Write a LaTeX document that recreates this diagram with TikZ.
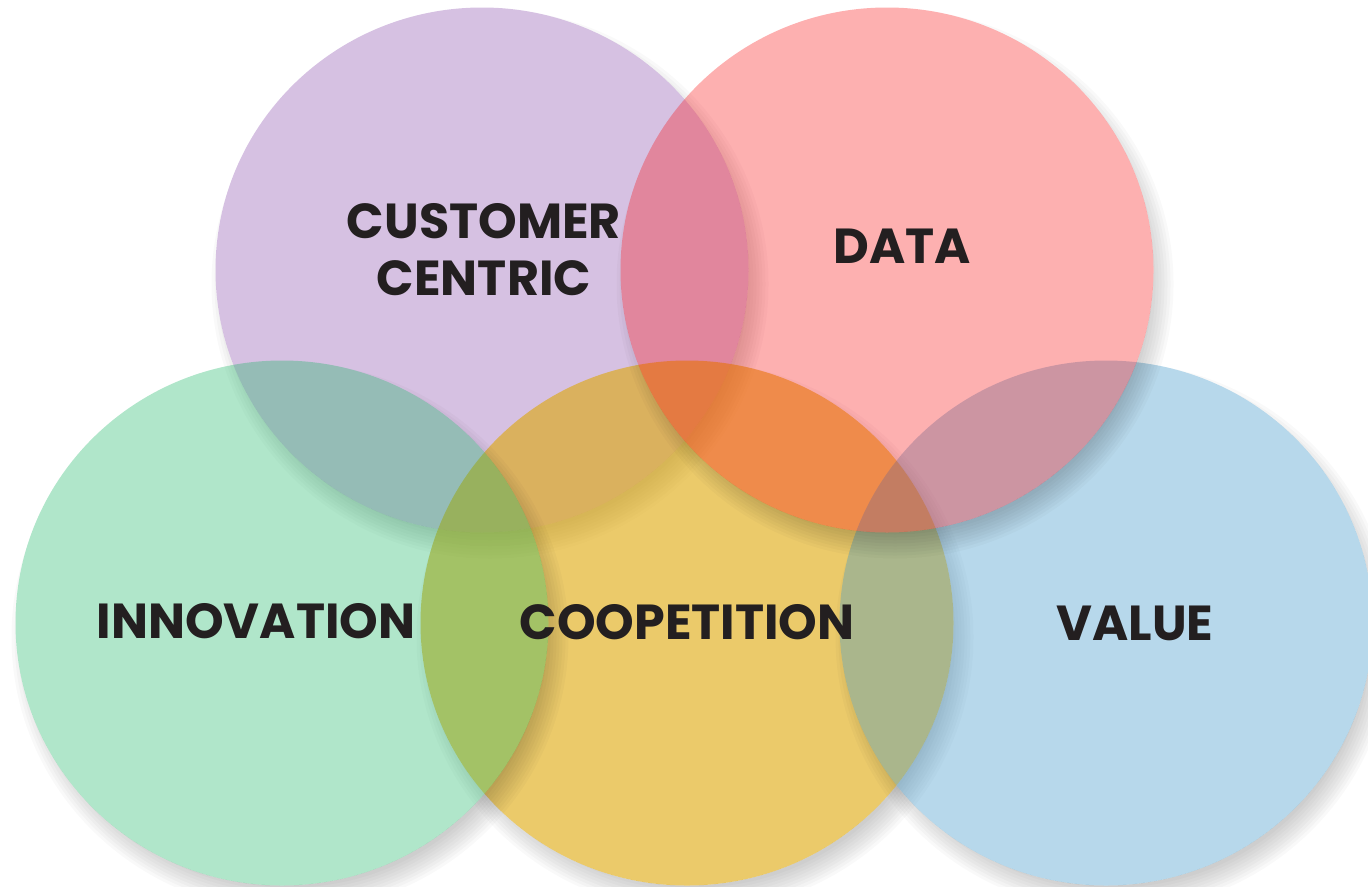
\documentclass[tikz,border=0pt]{standalone}
\usepackage{fontspec}
\setmainfont{Poppins}
\usepackage{xcolor}
\usetikzlibrary{positioning}

\definecolor{cpurple}{RGB}{153,100,183}
\definecolor{cyellow}{RGB}{222,167,7}
\definecolor{cgreen}{RGB}{16,179,94}
\definecolor{cblue}{RGB}{60,150,201}
\definecolor{cred}{RGB}{249,8,10}
\definecolor{ink}{RGB}{35,31,32}

\begin{document}
\begin{tikzpicture}[x=0.02cm, y=-0.02cm,
    word/.style={text=ink, font=\fontsize{28}{32.4}\selectfont\bfseries, align=center, inner sep=0pt}]

    \useasboundingbox (0,0) rectangle (1368,886);

    % Circles, back to front, each with a soft shadow outside it
    \foreach \cx/\cy/\col/\op in {482/270/cpurple/0.4, 687/623/cyellow/0.6, 282/623/cgreen/0.33, 1106/623/cblue/0.37, 887/270/cred/0.32} {
        \begin{scope}[even odd rule]
            \clip (-50,-50) rectangle (1420,940) (\cx,\cy) ellipse [x radius=266.5, y radius=262.5];
            \foreach \k in {0,...,8}
                \fill[black, fill opacity=0.022] (\cx+8,\cy+14) ellipse [x radius=254.5+3*\k, y radius=250.5+3*\k];
        \end{scope}
        \fill[\col, fill opacity=\op] (\cx,\cy) ellipse [x radius=266.5, y radius=262.5];
    }

    % Labels
    \node[word] (customer) at (484,250) {CUSTOMER\\CENTRIC};
    \node[word] (data) at (902,246) {DATA};
    \node[word] (innovation) at (256,621) {INNOVATION};
    \node[word] (coopetition) at (687,622) {COOPETITION};
    \node[word] (value) at (1135,623) {VALUE};

\end{tikzpicture}
\end{document}
